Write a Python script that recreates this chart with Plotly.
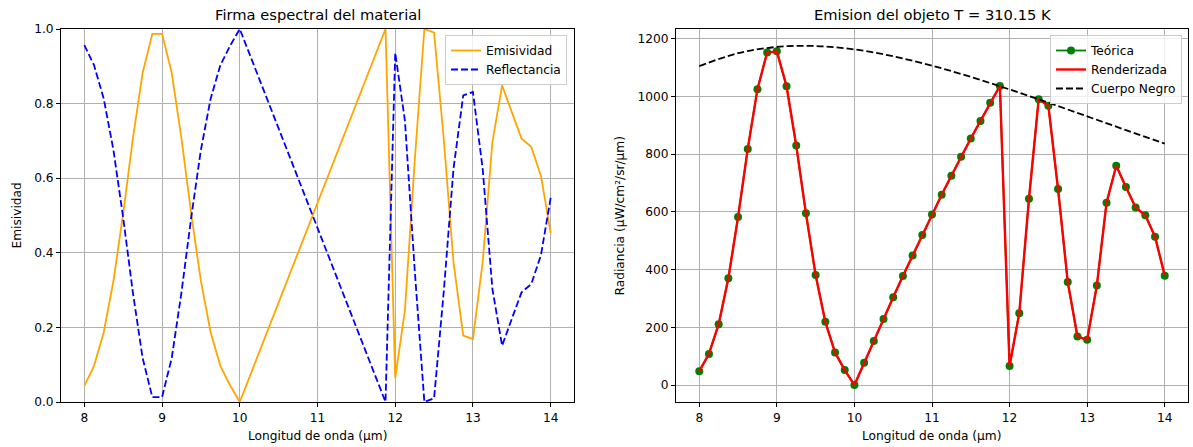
import plotly.graph_objects as go

wavelength = [8.0, 8.125, 8.25, 8.375, 8.5, 8.625, 8.75, 8.875, 9.0, 9.125, 9.25, 9.375, 9.5,
              9.625, 9.75, 9.875, 10.0, 10.125, 10.25, 10.375, 10.5, 10.625, 10.75, 10.875, 11.0,
              11.125, 11.25, 11.375, 11.5, 11.625, 11.75, 11.875, 12.0, 12.125, 12.25, 12.375, 12.5,
              12.625, 12.75, 12.875, 13.0, 13.125, 13.25, 13.375, 13.5, 13.625, 13.75, 13.875, 14.0]

emisividad = [0.043, 0.097, 0.187, 0.325, 0.506, 0.707, 0.882, 0.987, 0.987, 0.882, 0.706, 0.506, 0.324,
              0.187, 0.097, 0.045, 0.000, 0.067, 0.133, 0.200, 0.267, 0.334, 0.400, 0.466, 0.534,
              0.600, 0.667, 0.734, 0.800, 0.866, 0.935, 1.000, 0.064, 0.246, 0.644, 1.000, 0.990,
              0.703, 0.374, 0.178, 0.169, 0.375, 0.697, 0.849, 0.777, 0.706, 0.684, 0.606, 0.453]

reflectancia = [0.957, 0.903, 0.813, 0.675, 0.494, 0.293, 0.118, 0.013, 0.013, 0.118, 0.294, 0.494, 0.676,
                0.813, 0.903, 0.955, 1.000, 0.933, 0.867, 0.800, 0.733, 0.666, 0.600, 0.534, 0.466,
                0.400, 0.333, 0.266, 0.200, 0.134, 0.065, 0.000, 0.936, 0.754, 0.356, 0.000, 0.010,
                0.297, 0.626, 0.822, 0.831, 0.625, 0.303, 0.151, 0.223, 0.294, 0.316, 0.394, 0.547]

teorica = [48, 108, 211, 370, 582, 818, 1025, 1152, 1156, 1035, 830, 595, 381,
           219, 113, 52, 0, 77, 153, 229, 304, 378, 449, 520, 591,
           659, 725, 791, 854, 915, 978, 1036, 66, 249, 645, 990, 968,
           679, 357, 168, 157, 345, 632, 760, 686, 615, 588, 514, 379]

renderizada = [48, 108, 211, 370, 582, 818, 1025, 1152, 1156, 1035, 830, 595, 381,
               219, 113, 52, 0, 77, 153, 229, 304, 378, 449, 520, 591,
               659, 725, 791, 854, 915, 978, 1036, 66, 249, 645, 990, 968,
               679, 357, 168, 157, 345, 632, 760, 686, 615, 588, 514, 379]

bb_wavelength = [8.0, 8.5, 9.0, 9.5, 10.0, 10.5, 11.0, 11.5, 12.0, 12.5, 13.0, 13.5, 14.0]
cuerpo_negro = [1105.0, 1149.6, 1171.4, 1174.6, 1162.8, 1139.0, 1106.4, 1067.5, 1024.1, 978.2, 930.9, 883.3, 836.3]

x_ticks = [8, 9, 10, 11, 12, 13, 14]
left_y_ticks = [0.0, 0.2, 0.4, 0.6, 0.8, 1.0]
right_y_ticks = [0, 200, 400, 600, 800, 1000, 1200]

FONT = "DejaVu Sans"
TICK = 12.2
W, H = 1193, 447

fig = go.Figure()

fig.add_trace(go.Scatter(x=wavelength, y=emisividad, mode="lines", name="Emisividad",
                         line=dict(color="orange", width=1.8), xaxis="x", yaxis="y", legend="legend"))
fig.add_trace(go.Scatter(x=wavelength, y=reflectancia, mode="lines", name="Reflectancia",
                         line=dict(color="blue", width=1.8, dash="7px,3px"), xaxis="x", yaxis="y", legend="legend"))

fig.add_trace(go.Scatter(x=wavelength, y=teorica, mode="lines+markers", name="Teórica",
                         line=dict(color="green", width=1.8), marker=dict(color="green", size=8),
                         xaxis="x2", yaxis="y2", legend="legend2"))
fig.add_trace(go.Scatter(x=wavelength, y=renderizada, mode="lines", name="Renderizada",
                         line=dict(color="red", width=2.4), xaxis="x2", yaxis="y2", legend="legend2"))
fig.add_trace(go.Scatter(x=bb_wavelength, y=cuerpo_negro, mode="lines", name="Cuerpo Negro",
                         line=dict(color="black", width=1.8, dash="7px,3px", shape="spline"),
                         xaxis="x2", yaxis="y2", legend="legend2"))

axis_common = dict(showline=True, mirror=True, linecolor="black", linewidth=1,
                   ticks="outside", ticklen=4, tickwidth=1, tickcolor="black",
                   showgrid=True, gridcolor="#b0b0b0", gridwidth=0.8, zeroline=False,
                   automargin=False,
                   tickfont=dict(family=FONT, size=TICK, color="black"))

y0 = 45 / H
y1 = 418 / H
fig.update_layout(
    template="none",
    width=W, height=H, autosize=False,
    margin=dict(l=0, r=0, t=0, b=0, pad=0, autoexpand=False),
    paper_bgcolor="white", plot_bgcolor="white",
    font=dict(family=FONT, size=TICK, color="black"),
    xaxis=dict(domain=[61 / W, 574 / W], range=[7.7, 14.3], tickvals=x_ticks, anchor="y", **axis_common),
    yaxis=dict(domain=[y0, y1], range=[0, 1], tickvals=left_y_ticks, tickformat=".1f", anchor="x", **axis_common),
    xaxis2=dict(domain=[676 / W, 1188 / W], range=[7.7, 14.3], tickvals=x_ticks, anchor="y2", **axis_common),
    yaxis2=dict(domain=[y0, y1], range=[-58.7, 1233.5], tickvals=right_y_ticks, anchor="x2", **axis_common),
    legend=dict(x=567 / W, y=1 - 35 / H, xanchor="right", yanchor="top",
                bgcolor="rgba(255,255,255,0.8)", bordercolor="#cccccc", borderwidth=1,
                font=dict(family=FONT, size=TICK), tracegroupgap=0, itemwidth=30),
    legend2=dict(x=1182 / W, y=1 - 35 / H, xanchor="right", yanchor="top",
                 bgcolor="rgba(255,255,255,0.8)", bordercolor="#cccccc", borderwidth=1,
                 font=dict(family=FONT, size=TICK), tracegroupgap=0, itemwidth=30),
    showlegend=True,
)

annotations = [
    dict(text="Firma espectral del material", x=(61 + 574) / 2 / W, y=1 - 15 / H, xref="paper", yref="paper",
         xanchor="center", yanchor="middle", showarrow=False, font=dict(family=FONT, size=14.7)),
    dict(text="Emision del objeto T = 310.15 K", x=(676 + 1188) / 2 / W, y=1 - 15 / H, xref="paper", yref="paper",
         xanchor="center", yanchor="middle", showarrow=False, font=dict(family=FONT, size=14.7)),
    dict(text="Longitud de onda (µm)", x=(61 + 574) / 2 / W, y=1 - 436 / H, xref="paper", yref="paper",
         xanchor="center", yanchor="middle", showarrow=False, font=dict(family=FONT, size=TICK)),
    dict(text="Longitud de onda (µm)", x=(676 + 1188) / 2 / W, y=1 - 436 / H, xref="paper", yref="paper",
         xanchor="center", yanchor="middle", showarrow=False, font=dict(family=FONT, size=TICK)),
    dict(text="Emisividad", x=17 / W, y=1 - 215.5 / H, xref="paper", yref="paper", textangle=-90,
         xanchor="center", yanchor="middle", showarrow=False, font=dict(family=FONT, size=TICK)),
    dict(text="Radiancia (µW/cm²/sr/µm)", x=620 / W, y=1 - 215.5 / H, xref="paper", yref="paper", textangle=-90,
         xanchor="center", yanchor="middle", showarrow=False, font=dict(family=FONT, size=TICK)),
]
fig.update_layout(annotations=annotations)

fig.write_html("out.html")
